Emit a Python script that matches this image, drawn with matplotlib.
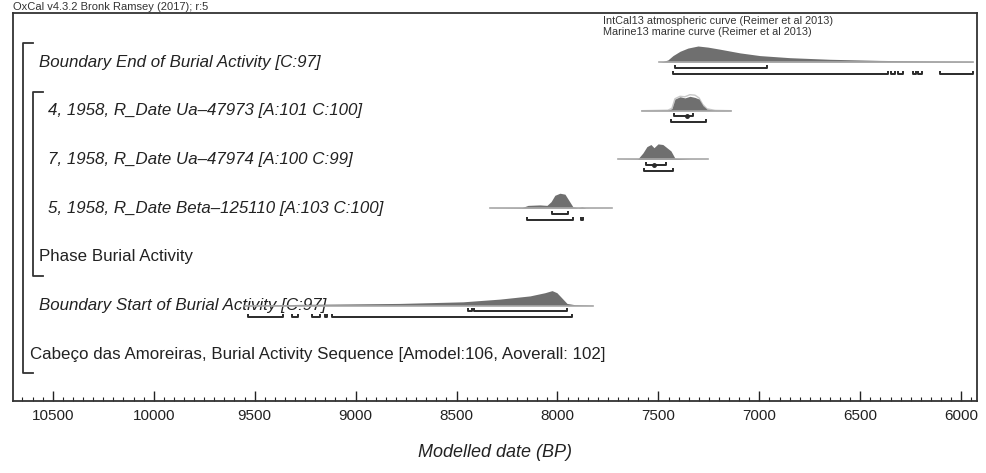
import matplotlib.pyplot as plt
from matplotlib.transforms import blended_transform_factory
from matplotlib.lines import Line2D
from matplotlib.ticker import MultipleLocator

plt.rcParams['font.family'] = ['Liberation Sans', 'DejaVu Sans']

# row labels, top to bottom
row_labels = [
    "Boundary End of Burial Activity [C:97]",
    "4, 1958, R_Date Ua\u201347973 [A:101 C:100]",
    "7, 1958, R_Date Ua\u201347974 [A:100 C:99]",
    "5, 1958, R_Date Beta\u2013125110 [A:103 C:100]",
    "Phase Burial Activity",
    "Boundary Start of Burial Activity [C:97]",
    "Cabe\u00e7o das Amoreiras, Burial Activity Sequence [Amodel:106, Aoverall: 102]",
]
row_italic = [True, True, True, True, False, True, False]
row_indent = [39, 48, 48, 48, 39, 39, 30]

# posterior profiles (years BP, relative probability)
end_years = [7495, 7478, 7453, 7428, 7393, 7354, 7304, 7255, 7195, 7096, 6997, 6849, 6651, 6403, 6155, 5942]
end_prob = [0, 0.03, 0.13, 0.40, 0.67, 0.87, 1.0, 0.93, 0.80, 0.57, 0.40, 0.27, 0.17, 0.10, 0.06, 0.04]

ua73_years = [7582, 7453, 7433, 7418, 7393, 7369, 7344, 7319, 7299, 7280, 7260, 7220, 7141]
ua73_prob = [0, 0.03, 0.13, 0.73, 0.87, 0.80, 0.90, 0.83, 0.73, 0.33, 0.10, 0.02, 0]
ua73_prior = [0, 0.03, 0.15, 0.75, 0.90, 0.87, 1.0, 0.97, 0.80, 0.38, 0.12, 0.02, 0]

ua74_years = [7701, 7602, 7577, 7557, 7537, 7522, 7502, 7478, 7458, 7438, 7418, 7344, 7255]
ua74_prob = [0, 0.03, 0.40, 0.80, 0.93, 0.73, 0.97, 0.93, 0.73, 0.53, 0.07, 0.01, 0]

beta_years = [8335, 8176, 8146, 8087, 8052, 8032, 8013, 7988, 7963, 7943, 7923, 7899, 7879, 7859, 7730]
beta_prob = [0, 0.03, 0.17, 0.20, 0.17, 0.40, 0.80, 0.93, 0.87, 0.47, 0.07, 0.02, 0.07, 0.01, 0]

start_years = [9548, 9276, 8780, 8468, 8285, 8136, 8062, 8027, 8003, 7973, 7953, 7914, 7824]
start_prob = [0, 0.07, 0.13, 0.23, 0.40, 0.60, 0.80, 0.93, 0.80, 0.40, 0.13, 0.05, 0.01]

# 68.2% and 95.4% ranges
end_r68 = [(7418, 6963)]
end_r95 = [(7428, 6363), (6349, 6329), (6314, 6289), (6240, 6225), (6215, 6195), (6106, 5942)]
ua73_r68 = [(7423, 7329)]
ua73_r95 = [(7438, 7265)]
ua73_mean = 7359
ua74_r68 = [(7562, 7463)]
ua74_r95 = [(7572, 7428)]
ua74_mean = 7522
beta_r68 = [(8027, 7948)]
beta_r95 = [(8151, 7923), (7884, 7874)]
start_r68 = [(8444, 8425), (8415, 7953)]
start_r95 = [(9533, 9360), (9315, 9286), (9216, 9177), (9152, 9142), (9117, 7928)]

W, H = 987, 473
fig = plt.figure(figsize=(W / 100, H / 100), dpi=100)
ax = fig.add_axes([13 / W, 1 - 401 / H, 964 / W, 388 / H])
ax.set_xlim(10697, 5922)
ax.set_ylim(401, 13)

row_y = [62 + 48.7 * i for i in range(len(row_labels))]
fx = blended_transform_factory(fig.transFigure, ax.transData)

fill_col = '#6f6f6f'
base_col = '#a8a8a8'
br_col = '#2a2a2a'
peak_px = 16


def draw_dist(y, years, prob, prior=None):
    top = [y - p * peak_px for p in prob]
    if prior is not None:
        ax.plot(years, [y - p * peak_px for p in prior], color='#c8c8c8', lw=1, zorder=2)
    ax.fill_between(years, y, top, color=fill_col, lw=0, zorder=3)
    ax.plot([years[0], years[-1]], [y, y], color=base_col, lw=1.2, zorder=4)


def draw_ranges(y, ranges, lw=1.4):
    for a, b in ranges:
        ax.plot([a, a, b, b], [y - 3, y, y, y - 3], color=br_col, lw=lw,
                solid_capstyle='butt', zorder=5)


rows = [
    (0, end_years, end_prob, None, end_r68, end_r95, None),
    (1, ua73_years, ua73_prob, ua73_prior, ua73_r68, ua73_r95, ua73_mean),
    (2, ua74_years, ua74_prob, None, ua74_r68, ua74_r95, ua74_mean),
    (3, beta_years, beta_prob, None, beta_r68, beta_r95, None),
    (5, start_years, start_prob, None, start_r68, start_r95, None),
]
for i, yrs, prob, prior, r68, r95, mean in rows:
    y = row_y[i]
    draw_dist(y, yrs, prob, prior)
    draw_ranges(y + 5.5, r68)
    draw_ranges(y + 11.5, r95)
    if mean is not None:
        ax.plot([mean], [y + 5.5], 'o', color=br_col, ms=2.5, zorder=6)

for lab, y, it, x in zip(row_labels, row_y, row_italic, row_indent):
    ax.text(x / W, y, lab, transform=fx, fontsize=12.2,
            style='italic' if it else 'normal', va='center', ha='left',
            color='#222222', zorder=1)

# sequence / phase brackets
for x0, y0, y1 in [(23, 43, 373), (33, 92, 276)]:
    ax.add_line(Line2D([(x0 + 10) / W, x0 / W, x0 / W, (x0 + 10) / W], [y0, y0, y1, y1],
                       transform=fx, color='#333333', lw=1.3, clip_on=False))

fig.text(13 / W, 1 - 7 / H, "OxCal v4.3.2 Bronk Ramsey (2017); r:5", fontsize=8,
         va='center', ha='left', color='#333333')
ax.text(603 / W, 21, "IntCal13 atmospheric curve (Reimer et al 2013)", transform=fx,
        fontsize=7.8, va='center', ha='left', color='#333333')
ax.text(603 / W, 31.5, "Marine13 marine curve (Reimer et al 2013)", transform=fx,
        fontsize=7.8, va='center', ha='left', color='#333333')

ax.set_xticks(range(6000, 10501, 500))
ax.xaxis.set_minor_locator(MultipleLocator(50))
ax.set_yticks([])
ax.tick_params(axis='x', which='major', direction='in', length=7, width=1,
               labelsize=11, pad=6, colors='#222222')
ax.tick_params(axis='x', which='minor', direction='in', length=3, width=0.8, colors='#222222')
for s in ax.spines.values():
    s.set_linewidth(1.3)
    s.set_color('#333333')
ax.set_xlabel("Modelled date (BP)", fontsize=13, style='italic', labelpad=15, color='#222222')

fig.savefig("out.png", dpi=100)
